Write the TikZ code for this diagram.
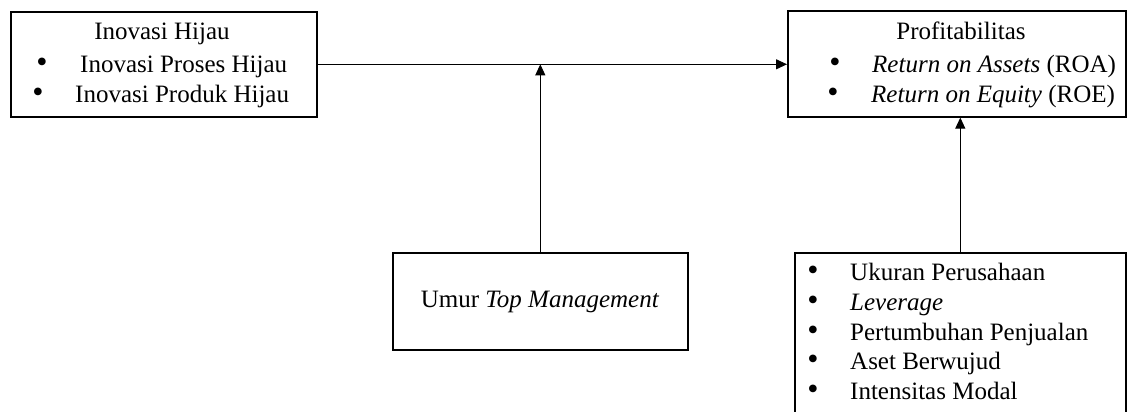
\documentclass[tikz,border=0pt]{standalone}
\usepackage{fontspec}
\setmainfont{Liberation Serif}
\usetikzlibrary{arrows.meta}
\begin{document}
\begin{tikzpicture}[x=1pt,y=-1pt,
  box/.style={draw=black,line width=1.6pt,inner sep=0pt,anchor=north west},
  txt/.style={inner sep=0pt,font=\fontsize{25}{30}\selectfont},
  bul/.style={inner sep=0pt,anchor=base,font=\fontsize{32}{30}\selectfont},
  arr/.style={draw=black,line width=1pt,-{Triangle[length=11pt,width=10pt]}}]
\useasboundingbox (0,0) rectangle (1129,412);
% boxes
\node[box,minimum width=306pt,minimum height=105pt] (ih) at (10,11) {};
\node[box,minimum width=338pt,minimum height=106pt] (pr) at (787,10) {};
\node[box,minimum width=331pt,minimum height=170pt] (ct) at (794,252) {};
\node[box,minimum width=295pt,minimum height=97pt] (um) at (392,252) {};
% box 1 text
\node[txt,anchor=base] (ih0) at (162,40) {Inovasi Hijau};
\node[bul] (ihb1) at (42,72) {\textbullet};
\node[txt,anchor=base west] (ih1) at (80,72) {Inovasi Proses Hijau};
\node[bul] (ihb2) at (38,102) {\textbullet};
\node[txt,anchor=base west] (ih2) at (75,102) {Inovasi Produk Hijau};
% box 2 text
\node[txt,anchor=base] (pr0) at (961,40) {Profitabilitas};
\node[bul] (prb1) at (835,72) {\textbullet};
\node[txt,anchor=base west] (pr1) at (872,72) {\textit{Return on Assets} (ROA)};
\node[bul] (prb2) at (833,102) {\textbullet};
\node[txt,anchor=base west] (pr2) at (871,102) {\textit{Return on Equity} (ROE)};
% box 3 text
\node[bul] (ctb1) at (813,280) {\textbullet};
\node[txt,anchor=base west] (ct1) at (850,280) {Ukuran Perusahaan};
\node[bul] (ctb2) at (813,310) {\textbullet};
\node[txt,anchor=base west] (ct2) at (850,310) {\textit{Leverage}};
\node[bul] (ctb3) at (813,340) {\textbullet};
\node[txt,anchor=base west] (ct3) at (850,340) {Pertumbuhan Penjualan};
\node[bul] (ctb4) at (813,369) {\textbullet};
\node[txt,anchor=base west] (ct4) at (850,369) {Aset Berwujud};
\node[bul] (ctb5) at (813,399) {\textbullet};
\node[txt,anchor=base west] (ct5) at (850,399) {Intensitas Modal};
% box 4 text
\node[txt,anchor=base] (um0) at (540,307) {Umur \textit{Top Management}};
% connectors
\draw[arr] (ih.east) -- (ih.east -| pr.west);
\draw[arr] (um.north) -- (um.north |- ih.east);
\draw[arr] (ct.north) -- (ct.north |- pr.south);
\end{tikzpicture}
\end{document}
